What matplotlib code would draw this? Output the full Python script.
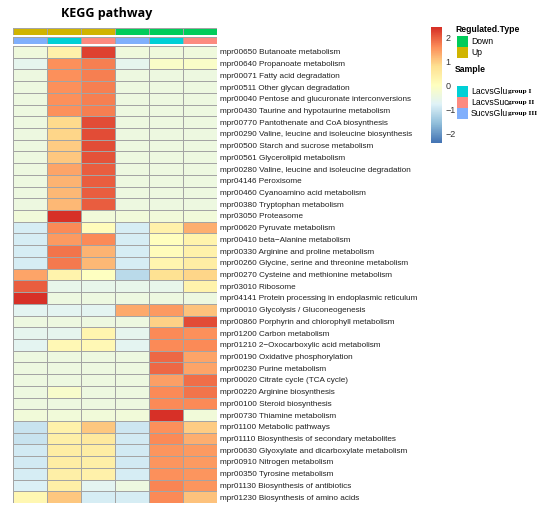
import numpy as np
import matplotlib
matplotlib.use('Agg')
import matplotlib.pyplot as plt
from matplotlib.colors import LinearSegmentedColormap, ListedColormap
from matplotlib.patches import Rectangle

plt.rcParams['font.family'] = ['Liberation Sans', 'DejaVu Sans']

# pathways (rows, top to bottom)
pathways = [
    'mpr00650 Butanoate metabolism',
    'mpr00640 Propanoate metabolism',
    'mpr00071 Fatty acid degradation',
    'mpr00511 Other glycan degradation',
    'mpr00040 Pentose and glucuronate interconversions',
    'mpr00430 Taurine and hypotaurine metabolism',
    'mpr00770 Pantothenate and CoA biosynthesis',
    'mpr00290 Valine, leucine and isoleucine biosynthesis',
    'mpr00500 Starch and sucrose metabolism',
    'mpr00561 Glycerolipid metabolism',
    'mpr00280 Valine, leucine and isoleucine degradation',
    'mpr04146 Peroxisome',
    'mpr00460 Cyanoamino acid metabolism',
    'mpr00380 Tryptophan metabolism',
    'mpr03050 Proteasome',
    'mpr00620 Pyruvate metabolism',
    'mpr00410 beta\u2212Alanine metabolism',
    'mpr00330 Arginine and proline metabolism',
    'mpr00260 Glycine, serine and threonine metabolism',
    'mpr00270 Cysteine and methionine metabolism',
    'mpr03010 Ribosome',
    'mpr04141 Protein processing in endoplasmic reticulum',
    'mpr00010 Glycolysis / Gluconeogenesis',
    'mpr00860 Porphyrin and chlorophyll metabolism',
    'mpr01200 Carbon metabolism',
    'mpr01210 2\u2212Oxocarboxylic acid metabolism',
    'mpr00190 Oxidative phosphorylation',
    'mpr00230 Purine metabolism',
    'mpr00020 Citrate cycle (TCA cycle)',
    'mpr00220 Arginine biosynthesis',
    'mpr00100 Steroid biosynthesis',
    'mpr00730 Thiamine metabolism',
    'mpr01100 Metabolic pathways',
    'mpr01110 Biosynthesis of secondary metabolites',
    'mpr00630 Glyoxylate and dicarboxylate metabolism',
    'mpr00910 Nitrogen metabolism',
    'mpr00350 Tyrosine metabolism',
    'mpr01130 Biosynthesis of antibiotics',
    'mpr01230 Biosynthesis of amino acids',
]

# columns: Up (SucvsGlu, LacvsGlu, LacvsSuc), Down (SucvsGlu, LacvsGlu, LacvsSuc)
sucglu_up = [-0.4, -0.65, -0.45, -0.45, -0.45, -0.45, -0.45, -0.45, -0.45, -0.45,
             -0.45, -0.45, -0.45, -0.45, -0.35, -0.85, -0.85, -0.85, -0.85, 1.4,
             2.05, 2.45, -0.7, -0.45, -0.65, -0.7, -0.45, -0.45, -0.45, -0.45,
             -0.45, -0.35, -1.0, -1.0, -0.9, -0.9, -0.85, -0.8, 0.25]
lacglu_up = [0.4, 1.6, 1.6, 1.6, 1.6, 1.6, 0.85, 0.9, 1.0, 1.05,
             1.4, 1.25, 1.2, 1.2, 2.45, 1.65, 1.5, 1.85, 1.8, 0.35,
             -0.6, -0.45, -0.7, -0.45, -0.65, 0.2, -0.45, -0.45, -0.45, -0.15,
             -0.45, -0.35, 0.4, 0.45, 0.5, 0.5, 0.45, 0.45, 1.05]
lacsuc_up = [2.3, 1.75, 1.75, 1.75, 1.75, 1.75, 2.2, 2.2, 2.2, 2.15,
             2.05, 2.05, 2.05, 2.05, -0.35, 0.1, 1.65, 1.25, 1.2, 0.0,
             -0.6, -0.45, -0.7, -0.45, 0.3, 0.2, -0.45, -0.45, -0.45, -0.45,
             -0.45, -0.35, 1.05, 0.6, 0.5, 0.45, 0.4, -0.7, -0.85]
sucglu_down = [-0.4, -0.65, -0.45, -0.45, -0.45, -0.45, -0.45, -0.45, -0.45, -0.45,
               -0.45, -0.45, -0.45, -0.45, -0.35, -0.85, -0.85, -0.85, -0.85, -1.15,
               -0.6, -0.45, 1.35, -0.45, -0.65, -0.7, -0.45, -0.45, -0.45, -0.45,
               -0.45, -0.35, -0.95, -0.9, -0.9, -0.9, -0.85, -0.45, -0.85]
lacglu_down = [-0.4, -0.1, -0.45, -0.45, -0.45, -0.45, -0.45, -0.45, -0.45, -0.45,
               -0.45, -0.45, -0.45, -0.45, -0.35, 0.4, 0.05, 0.1, 0.3, 0.8,
               -0.6, -0.45, 1.5, 0.95, 1.65, 1.65, 1.95, 1.95, 1.45, 1.65,
               1.65, 2.45, 1.6, 1.65, 1.55, 1.55, 1.6, 1.7, 1.65]
lacsuc_down = [-0.4, -0.1, -0.45, -0.45, -0.45, -0.45, -0.45, -0.45, -0.45, -0.45,
               -0.45, -0.45, -0.45, -0.45, -0.35, 1.3, 0.35, 0.4, 0.5, 0.9,
               0.35, -0.45, 1.1, 2.2, 1.6, 1.65, 1.4, 1.4, 1.9, 1.85,
               1.65, -0.35, 1.0, 1.3, 1.5, 1.5, 1.55, 1.55, 1.1]

regulated = ['Up', 'Up', 'Up', 'Down', 'Down', 'Down']
samples = ['SucvsGlu', 'LacvsGlu', 'LacvsSuc', 'SucvsGlu', 'LacvsGlu', 'LacvsSuc']

reg_colors = {'Down': '#00cc5a', 'Up': '#d0b400'}
sample_colors = {'LacvsGlu': '#00d0d6', 'LacvsSuc': '#fc8a80', 'SucvsGlu': '#80affc'}
sample_groups = {'LacvsGlu': 'group I', 'LacvsSuc': 'group II', 'SucvsGlu': 'group III'}

vmin, vmax = -2.4, 2.45
cmap = LinearSegmentedColormap.from_list(
    'rdylbu', ['#4575b4', '#91bfdb', '#e0f3f8', '#ffffbf', '#fee090', '#fc8d59', '#d73027'], N=100)
grid = '#a4a4a4'

W, H = 550, 515
fig = plt.figure(figsize=(W / 100, H / 100), dpi=100)


def px_axes(x0, y0, x1, y1):
    return fig.add_axes([x0 / W, 1 - y1 / H, (x1 - x0) / W, (y1 - y0) / H])


# main heatmap
data = np.column_stack([sucglu_up, lacglu_up, lacsuc_up, sucglu_down, lacglu_down, lacsuc_down])
ax = px_axes(13, 46, 217, 503)
ax.pcolormesh(data, cmap=cmap, vmin=vmin, vmax=vmax, edgecolors=grid, linewidth=0.6)
ax.set_xlim(0, data.shape[1])
ax.set_ylim(data.shape[0], 0)
ax.set_xticks([])
ax.yaxis.tick_right()
ax.set_yticks(np.arange(len(pathways)) + 0.5)
ax.set_yticklabels(pathways, fontsize=5.85, color='#222222')
ax.tick_params(axis='y', length=0, pad=2)
for s in ax.spines.values():
    s.set_visible(False)

# annotation bars
annot_rows = [(regulated, reg_colors, 27.5, 35), (samples, sample_colors, 36.8, 44)]
for labels, colors, y0, y1 in annot_rows:
    a = px_axes(13, y0, 217, y1)
    keys = list(colors)
    idx = np.array([[keys.index(l) for l in labels]])
    a.pcolormesh(idx, cmap=ListedColormap([colors[k] for k in keys]), vmin=-0.5,
                 vmax=len(keys) - 0.5, edgecolors=grid, linewidth=0.6)
    a.set_xlim(0, len(labels))
    a.set_axis_off()

fig.text(107 / W, 1 - 14 / H, 'KEGG pathway', ha='center', va='center',
         fontsize=9, fontweight='bold', family=['Open Sans', 'DejaVu Sans'])

# colour scale
cax = px_axes(431, 27, 441, 143)
grad = np.linspace(vmin, vmax, 256).reshape(-1, 1)
cax.imshow(grad, cmap=cmap, vmin=vmin, vmax=vmax, aspect='auto', origin='lower',
           extent=[0, 1, vmin, vmax])
cax.set_xticks([])
cax.yaxis.tick_right()
cax.set_yticks([-2, -1, 0, 1, 2])
cax.set_yticklabels(['\u22122', '\u22121', '0', '1', '2'], fontsize=6.5, color='#333333')
cax.tick_params(axis='y', length=0, pad=3)
for s in cax.spines.values():
    s.set_visible(False)

# legends
lax = px_axes(0, 0, W, H)
lax.set_xlim(0, W)
lax.set_ylim(H, 0)
lax.set_axis_off()
lax.text(455, 30, 'Regulated.Type', fontsize=6.2, fontweight='bold', va='center')
for i, k in enumerate(['Down', 'Up']):
    y = 36 + i * 11
    lax.add_patch(Rectangle((457, y), 11, 11, facecolor=reg_colors[k], edgecolor='none'))
    lax.text(471, y + 5.5, k, fontsize=6.2, va='center')
lax.text(455, 69, 'Sample', fontsize=6.2, fontweight='bold', va='center')
for i, k in enumerate(['LacvsGlu', 'LacvsSuc', 'SucvsGlu']):
    y = 86 + i * 11
    lax.add_patch(Rectangle((457, y), 11, 11, facecolor=sample_colors[k], edgecolor='none'))
    lax.text(471, y + 5.5, k, fontsize=6.2, va='center')
    lax.text(508, y + 5.8, sample_groups[k], fontsize=5.3, fontweight='bold',
             va='center', family=['Liberation Serif'])

fig.savefig('out.png', dpi=100)
